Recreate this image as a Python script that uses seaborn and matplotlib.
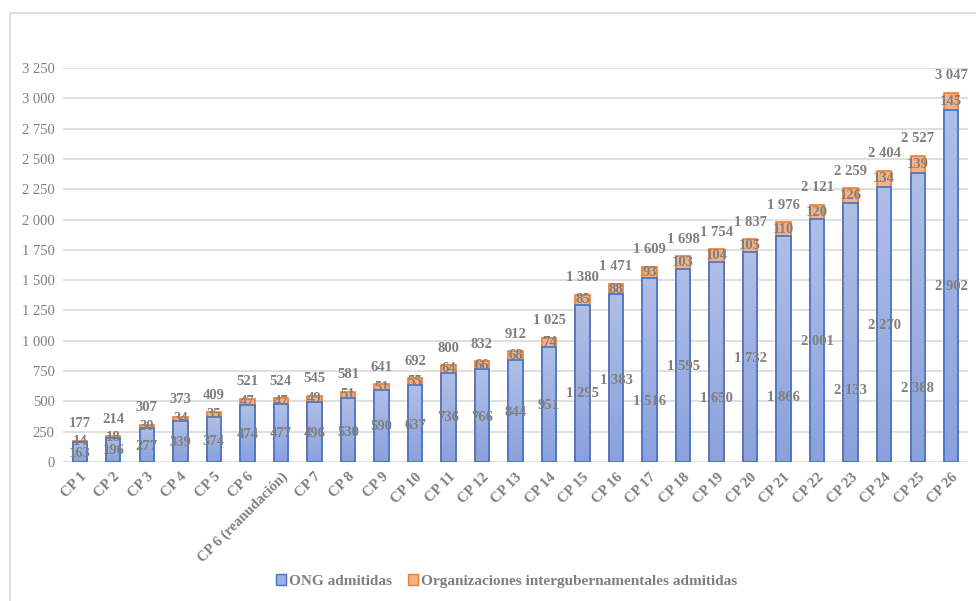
import matplotlib
matplotlib.use("Agg")
import matplotlib.pyplot as plt
from matplotlib.lines import Line2D
from matplotlib.patches import Patch
from matplotlib.colors import LinearSegmentedColormap
import numpy as np
import seaborn as sns
import pandas as pd

# Data
categories = ["CP 1", "CP 2", "CP 3", "CP 4", "CP 5", "CP 6", "CP 6 (reanudación)",
              "CP 7", "CP 8", "CP 9", "CP 10", "CP 11", "CP 12", "CP 13", "CP 14",
              "CP 15", "CP 16", "CP 17", "CP 18", "CP 19", "CP 20", "CP 21", "CP 22",
              "CP 23", "CP 24", "CP 25", "CP 26"]
ong = [163, 196, 277, 339, 374, 474, 477, 496, 530, 590, 637, 736, 766, 844, 951,
       1295, 1383, 1516, 1595, 1650, 1732, 1866, 2001, 2133, 2270, 2388, 2902]
igo = [14, 18, 30, 34, 35, 47, 47, 49, 51, 51, 55, 64, 66, 68, 74,
       85, 88, 93, 103, 104, 105, 110, 120, 126, 134, 139, 145]
# where the ONG value labels sit
ong_label_y = [74, 91, 124, 157, 173, 223, 231, 239, 247, 289, 305, 363, 371, 412, 462,
               561, 676, 495, 784, 520, 850, 536, 990, 586, 1130, 610, 1444]

df = pd.DataFrame({"cp": categories, "ong": ong, "igo": igo})
df["total"] = df["ong"] + df["igo"]

gray = "#7f7f7f"
blue_fill = "#9db0e1"
blue_edge = "#4472c4"
orange_fill = "#f4b183"
orange_edge = "#ed7d31"
serif = ["Liberation Serif", "DejaVu Serif"]
blue_grad = LinearSegmentedColormap.from_list("bg", ["#8aa1dc", "#b0bfe7"])

sns.set_style("white")
plt.rcParams["font.family"] = serif

fig = plt.figure(figsize=(9.76, 6.01), dpi=100)
ax = fig.add_axes([63 / 976, (601 - 462) / 601, 905 / 976, 394 / 601])

# totals first (orange), ONG drawn over the lower part
sns.barplot(data=df, x="cp", y="total", color=orange_fill, edgecolor=orange_edge,
            linewidth=1.2, width=0.43, saturation=1, ax=ax, zorder=2)
n_orange = len(ax.patches)
sns.barplot(data=df, x="cp", y="ong", color=blue_fill, edgecolor=blue_edge,
            linewidth=1.2, width=0.43, saturation=1, ax=ax, zorder=3)

# gradient fill inside the blue bars
grad = np.linspace(0, 1, 256).reshape(-1, 1)
for p in ax.patches[n_orange:]:
    x0, y0 = p.get_x(), p.get_y()
    w, h = p.get_width(), p.get_height()
    im = ax.imshow(grad, cmap=blue_grad, aspect="auto", origin="lower",
                   extent=[x0, x0 + w, y0, y0 + h], zorder=3.1)
    im.set_clip_path(p)
    p.set_facecolor("none")
    p.set_zorder(3.2)

ax.set_ylim(0, 3250)
ax.set_xlim(-0.5, len(categories) - 0.5)
ax.set_yticks(range(0, 3251, 250))
ax.set_yticklabels([f"{v:,}".replace(",", " ") for v in range(0, 3251, 250)],
                   color=gray, fontsize=10.5)
ax.set_xticks(range(len(categories)))
ax.set_xticklabels(categories, rotation=45, ha="right", rotation_mode="anchor",
                   color=gray, fontsize=10.5, fontweight="bold")
ax.tick_params(axis="both", length=0, pad=6)
ax.set_xlabel("")
ax.set_ylabel("")
ax.grid(axis="y", color="#d9d9d9", linewidth=1.2, zorder=0)
ax.set_axisbelow(True)
for s in ax.spines.values():
    s.set_visible(False)

fmt = lambda v: f"{v:,}".replace(",", " ")
for i, row in df.iterrows():
    ax.text(i, ong_label_y[i], fmt(row["ong"]), ha="center", va="center",
            color=gray, fontsize=10.5, fontweight="bold", zorder=5)
    ax.text(i, row["ong"] + row["igo"] / 2, fmt(row["igo"]), ha="center", va="center",
            color=gray, fontsize=10.5, fontweight="bold", zorder=5)
    ax.text(i, row["total"] + 140, fmt(row["total"]), ha="center", va="center",
            color=gray, fontsize=10.5, fontweight="bold", zorder=5, clip_on=False)

handles = [Patch(facecolor=blue_fill, edgecolor=blue_edge, label="ONG admitidas"),
           Patch(facecolor=orange_fill, edgecolor=orange_edge,
                 label="Organizaciones intergubernamentales admitidas")]
leg = fig.legend(handles=handles, loc="center", bbox_to_anchor=(0.519, 1 - 581 / 601),
                 ncol=2, frameon=False, handlelength=0.7, handleheight=0.7,
                 handletextpad=0.2, columnspacing=1.0,
                 prop={"family": serif, "weight": "bold", "size": 11})
for t in leg.get_texts():
    t.set_color(gray)

# chart frame
fig.add_artist(Line2D([10 / 976, 10 / 976], [0, 1 - 13 / 601], color="#d9d9d9", lw=1.2))
fig.add_artist(Line2D([10 / 976, 1], [1 - 13 / 601, 1 - 13 / 601], color="#d9d9d9", lw=1.2))

fig.savefig("out.png", dpi=100, facecolor="white")
